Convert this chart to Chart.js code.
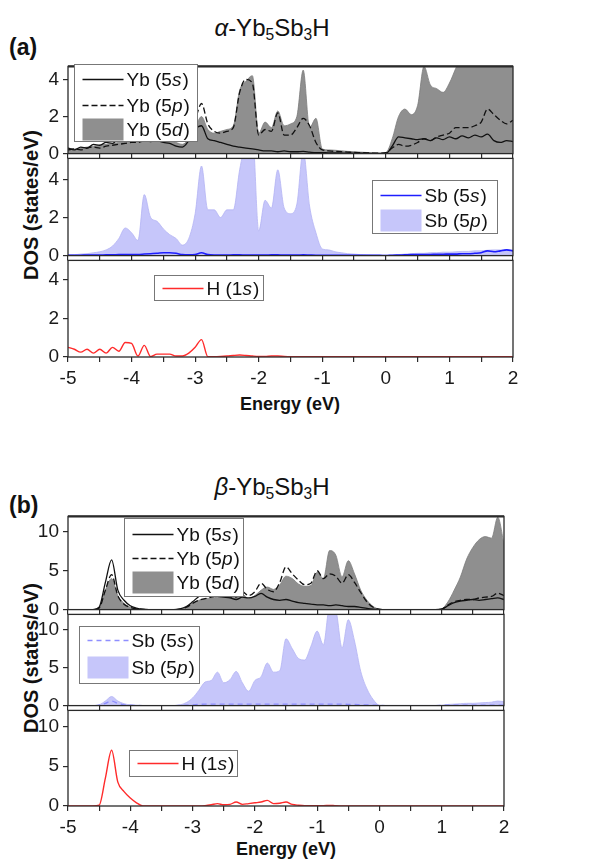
<!DOCTYPE html>
<html>
<head>
<meta charset="utf-8">
<script src="https://cdn.jsdelivr.net/npm/chart.js@4.4.1/dist/chart.umd.min.js"></script>
<style>
  body { margin: 0; background: #fff; width: 598px; height: 865px; position: relative; overflow: hidden;
         font-family: "Liberation Sans", Arial, sans-serif; color: #111; }
  canvas { position: absolute; left: 0; }
  .txt { position: absolute; white-space: nowrap; }
  .title { width: 240px; text-align: center; font-size: 24px; }
  .title sub { font-size: 65%; vertical-align: -0.28em; line-height: 0; }
  .tag { font-weight: bold; font-size: 23px; }
  .ylab { font-weight: bold; font-size: 20px; transform: translate(-50%, -50%) rotate(-90deg); }
  .xlab { font-weight: bold; font-size: 18px; transform: translate(-50%, -50%); }
</style>
</head>
<body>
<div class="txt tag" style="left:9px;top:34px">(a)</div>
<div class="txt title" style="left:152px;top:14px"><i>α</i>-Yb<sub>5</sub>Sb<sub>3</sub>H</div>
<div class="txt ylab" style="left:31px;top:205px">DOS (states/eV)</div>
<div class="txt xlab" style="left:290px;top:404px">Energy (eV)</div>

<div class="txt tag" style="left:9px;top:492px">(b)</div>
<div class="txt title" style="left:152px;top:473px"><i>β</i>-Yb<sub>5</sub>Sb<sub>3</sub>H</div>
<div class="txt ylab" style="left:31px;top:658px">DOS (states/eV)</div>
<div class="txt xlab" style="left:286px;top:849px">Energy (eV)</div>

<canvas id="a1"></canvas>
<canvas id="a2"></canvas>
<canvas id="a3"></canvas>
<canvas id="b1"></canvas>
<canvas id="b2"></canvas>
<canvas id="b3"></canvas>

<script>
// energy grid (eV)
const energy = [-5.0,-4.9,-4.8,-4.7,-4.6,-4.5,-4.4,-4.3,-4.2,-4.1,
  -4.0,-3.9,-3.8,-3.7,-3.6,-3.5,-3.4,-3.3,-3.2,-3.1,
  -3.0,-2.9,-2.8,-2.7,-2.6,-2.5,-2.4,-2.3,-2.2,-2.1,
  -2.0,-1.9,-1.8,-1.7,-1.6,-1.5,-1.4,-1.3,-1.2,-1.1,
  -1.0,-0.9,-0.8,-0.7,-0.6,-0.5,-0.4,-0.3,-0.2,-0.1,
  0.0,0.1,0.2,0.3,0.4,0.5,0.6,0.7,0.8,0.9,
  1.0,1.1,1.2,1.3,1.4,1.5,1.6,1.7,1.8,1.9,2.0];

const xTicks = [-5,-4.5,-4,-3.5,-3,-2.5,-2,-1.5,-1,-0.5,0,0.5,1,1.5,2];
const xLabels = [-5,-4,-3,-2,-1,0,1,2];

// (a) alpha-Yb5Sb3H
const aYb5s = [0.3,0.2,0.35,0.3,0.5,0.45,0.6,0.55,0.8,0.7,
  0.85,0.7,0.75,0.65,0.7,0.6,0.55,0.4,0.35,0.7,
  1.3,1.5,0.8,0.7,0.6,0.5,0.4,0.35,0.3,0.25,
  0.2,0.15,0.15,0.1,0.15,0.1,0.1,0.12,0.08,0.05,
  0.05,0.04,0.04,0.03,0.03,0.02,0.02,0.02,0.01,0.01,
  0.0,0.4,0.9,0.85,0.8,0.75,0.8,0.7,0.85,0.75,
  0.9,0.8,0.95,0.85,1.0,0.9,1.05,0.7,0.6,0.7,0.65];
const aYb5p = [0.2,0.25,0.2,0.3,0.35,0.3,0.4,0.45,0.5,0.55,
  0.6,0.6,0.7,0.75,0.8,0.75,0.8,0.85,0.9,1.0,
  1.8,2.7,1.6,1.2,1.1,1.2,1.4,3.3,4.0,3.8,
  1.0,1.3,1.2,2.2,1.0,1.0,1.4,1.9,1.5,0.6,
  0.2,0.15,0.12,0.1,0.08,0.06,0.05,0.04,0.03,0.02,
  0.05,0.3,0.5,0.4,0.45,0.6,0.8,0.7,0.9,1.0,
  1.1,1.4,1.4,1.4,1.5,1.7,2.4,2.1,1.8,1.6,1.8];
const aYb5d = [0.3,0.25,0.3,0.35,0.4,0.45,0.5,0.55,0.6,0.65,
  0.7,0.65,0.7,0.75,0.7,0.75,0.7,0.6,0.5,0.8,
  1.4,2.0,1.3,1.1,1.2,1.3,1.5,3.4,3.9,4.2,
  1.1,1.7,1.4,2.3,1.5,1.6,2.0,4.5,1.4,1.9,
  0.25,0.2,0.18,0.15,0.12,0.1,0.08,0.06,0.04,0.02,
  0.05,0.8,2.0,2.4,2.1,2.6,4.7,3.7,3.5,3.3,
  3.8,4.6,5.4,6.0,6.5,7.0,6.8,7.2,7.5,7.0,6.8];
const aSb5s = [0.02,0.02,0.02,0.03,0.03,0.03,0.04,0.04,0.05,0.05,
  0.05,0.06,0.08,0.1,0.12,0.15,0.15,0.12,0.05,0.04,
  0.06,0.15,0.05,0.03,0.03,0.03,0.04,0.04,0.03,0.03,
  0.03,0.03,0.04,0.04,0.03,0.03,0.03,0.04,0.03,0.02,
  0.02,0.02,0.01,0.01,0.01,0.01,0.01,0.01,0.01,0.01,
  0.0,0.02,0.03,0.04,0.05,0.05,0.06,0.06,0.07,0.07,
  0.08,0.08,0.1,0.1,0.12,0.15,0.25,0.2,0.25,0.3,0.25];
const aSb5p = [0.05,0.05,0.08,0.1,0.15,0.2,0.3,0.5,0.9,1.45,
  1.2,0.8,3.2,2.0,1.8,1.4,1.1,0.9,0.55,0.9,
  2.2,4.7,2.4,2.4,2.0,2.4,2.4,4.5,6.0,6.5,
  1.3,2.9,2.5,4.5,2.5,2.2,2.7,5.5,2.6,1.2,
  0.35,0.3,0.2,0.15,0.1,0.08,0.05,0.03,0.02,0.02,
  0.02,0.03,0.05,0.08,0.1,0.12,0.12,0.15,0.15,0.18,
  0.18,0.2,0.22,0.22,0.25,0.25,0.28,0.3,0.3,0.32,0.3];
const aH1s = [0.5,0.4,0.25,0.4,0.2,0.4,0.2,0.5,0.3,0.75,
  0.7,0.05,0.6,0.02,0.15,0.15,0.15,0.05,0.05,0.2,
  0.5,0.9,0.02,0.02,0.03,0.05,0.08,0.1,0.08,0.05,
  0.03,0.03,0.05,0.05,0.03,0.02,0.02,0.02,0.02,0.01,
  0.01,0.01,0.01,0.01,0.01,0.01,0.01,0.01,0.01,0.01,
  0.01,0.01,0.01,0.01,0.01,0.01,0.01,0.01,0.01,0.01,
  0.01,0.01,0.01,0.01,0.01,0.01,0.01,0.01,0.01,0.01,0.01];

// (b) beta-Yb5Sb3H
const bYb5s = [0,0,0,0,0,0.3,3.5,6.4,2.5,1.2,
  0.5,0.2,0.05,0,0,0,0,0,0.1,0.4,
  1.0,1.7,2.2,2.0,1.7,1.6,1.5,1.3,1.6,1.5,
  1.7,2.1,1.6,1.3,1.2,1.3,1.1,0.9,0.8,0.7,
  0.6,0.6,0.5,0.6,0.5,0.4,0.4,0.3,0.15,0.05,
  0,0,0,0,0,0,0,0,0,0,
  0.05,0.5,0.9,1.1,1.2,1.3,1.2,1.3,1.4,1.5,1.3];
const bYb5p = [0,0,0,0,0,0.2,2.5,4.5,1.8,0.7,
  0.3,0.1,0.02,0,0,0,0,0,0.05,0.3,
  0.8,1.2,1.4,1.6,1.8,2.0,1.6,1.6,2.3,1.8,
  2.3,3.4,2.6,2.3,3.5,5.5,4.6,3.8,3.2,3.4,
  5.0,4.0,4.6,4.3,3.4,4.5,3.5,2.2,1.0,0.3,
  0.05,0,0,0,0,0,0,0,0,0,
  0.05,0.6,1.0,1.2,1.3,1.3,1.5,1.6,1.7,2.1,1.8];
const bYb5d = [0,0,0,0,0,0.2,2.5,4.0,1.8,0.8,
  0.3,0.1,0.02,0,0,0,0,0,0.05,0.3,
  0.8,1.2,1.4,1.5,1.7,2.0,1.7,1.6,2.0,1.4,
  1.8,2.5,2.9,2.6,3.2,4.3,4.0,3.3,3.0,3.1,
  4.8,4.0,7.6,7.0,4.2,6.3,4.6,2.5,1.2,0.4,
  0.05,0,0,0,0,0,0,0,0,0,
  0.1,1.0,2.5,4.2,6.5,8.0,9.0,9.4,9.2,11.9,8.5];
const bSb5s = [0,0,0,0,0,0.05,0.3,0.6,0.3,0.1,
  0.05,0.02,0,0,0,0,0,0,0.02,0.05,
  0.1,0.15,0.2,0.2,0.2,0.2,0.2,0.2,0.2,0.2,
  0.2,0.2,0.2,0.2,0.2,0.2,0.2,0.2,0.2,0.2,
  0.2,0.2,0.2,0.2,0.2,0.15,0.15,0.1,0.08,0.05,
  0.02,0,0,0,0,0,0,0,0,0,
  0.02,0.05,0.05,0.05,0.05,0.05,0.05,0.05,0.05,0.05,0.05];
const bSb5p = [0,0,0,0,0,0.1,0.6,1.2,0.6,0.25,
  0.1,0.05,0,0,0,0,0,0,0.1,0.4,
  1.0,2.0,3.1,3.3,4.4,3.0,3.4,4.5,3.0,1.9,
  3.3,3.8,5.6,4.4,4.6,8.8,7.5,6.2,6.0,7.8,
  9.8,8.0,13,12.5,7.6,11.3,8.5,4.5,2.2,0.8,
  0.05,0.02,0.02,0.02,0.02,0.02,0.02,0.02,0.02,0.02,
  0.05,0.15,0.2,0.25,0.3,0.3,0.35,0.4,0.45,0.6,0.5];
const bH1s = [0,0,0,0,0,0.1,3.5,7.0,3.0,1.8,
  1.0,0.4,0.02,0,0,0,0,0,0,0.01,
  0.02,0.02,0.05,0.15,0.3,0.15,0.2,0.5,0.2,0.3,
  0.4,0.5,0.7,0.3,0.35,0.5,0.2,0.1,0.05,0.05,
  0.05,0.05,0.08,0.03,0.02,0.01,0.01,0,0,0,
  0,0,0,0,0,0,0,0,0,0,
  0,0,0,0,0,0,0,0,0,0,0];

const FONT = "'Liberation Sans', Arial, sans-serif";
Chart.defaults.font.family = FONT;
Chart.defaults.color = '#1a1a1a';

const pts = (vals) => energy.map((e, i) => ({ x: e, y: vals[i] }));

function line(label, vals, color, width, dash) {
  return { label, data: pts(vals), borderColor: color, borderWidth: width, borderDash: dash || [],
           pointRadius: 0, fill: false, cubicInterpolationMode: 'monotone' };
}
function area(label, vals, color, edge) {
  return { label, data: pts(vals), borderColor: edge, borderWidth: 0.8, backgroundColor: color,
           pointRadius: 0, fill: 'origin', cubicInterpolationMode: 'monotone' };
}

// box around each sub-plot
const frame = {
  id: 'frame',
  afterDatasetsDraw(chart, args, o) {
    const { ctx, chartArea: a } = chart;
    ctx.save();
    ctx.strokeStyle = '#2a2a2a';
    ctx.lineWidth = 1.3;
    ctx.strokeRect(a.left, a.top, a.width, a.height);
    if (o.thickTop) {
      ctx.lineWidth = 2.2;
      ctx.beginPath(); ctx.moveTo(a.left, a.top); ctx.lineTo(a.right, a.top); ctx.stroke();
    }
    ctx.restore();
  }
};

// Origin-style boxed legend with italic orbital letter
const boxLegend = {
  id: 'boxLegend',
  afterDraw(chart, args, o) {
    const { ctx, chartArea: a } = chart;
    const x = Math.round(a.left + o.dx) + 0.5, y = Math.round(a.top + o.dy) + 0.5;
    ctx.save();
    ctx.fillStyle = '#fff';
    ctx.fillRect(x, y, o.w, o.h);
    ctx.strokeStyle = '#777';
    ctx.lineWidth = 1;
    ctx.strokeRect(x, y, o.w, o.h);
    chart.data.datasets.forEach((ds, i) => {
      const cy = y + o.rows[i];
      const sx = x + 8, ex = x + 49;
      if (ds.fill) {
        ctx.fillStyle = ds.backgroundColor;
        ctx.fillRect(sx, cy - 11, ex - sx, 22);
      } else {
        ctx.strokeStyle = ds.borderColor;
        ctx.lineWidth = ds.borderWidth;
        ctx.setLineDash(ds.borderDash);
        ctx.beginPath(); ctx.moveTo(sx, cy); ctx.lineTo(ex, cy); ctx.stroke();
        ctx.setLineDash([]);
      }
      const m = ds.label.match(/^(.*\d)([a-z])(\))$/);
      let tx = x + 52;
      ctx.fillStyle = '#111';
      ctx.textBaseline = 'middle';
      [[m[1], ''], [m[2], 'italic '], [m[3], '']].forEach(([s, st]) => {
        ctx.font = st + '19px ' + FONT;
        ctx.fillText(s, tx, cy + 1);
        tx += ctx.measureText(s).width + (st ? 1 : 0);
      });
    });
    ctx.restore();
  }
};

const PAD_TOP = 12, PAD_RIGHT = 14;

function subplot(id, box, datasets, yMax, yTicks, yLabels, legend, opts) {
  const xh = opts.bottom ? 36 : 14;
  const cv = document.getElementById(id);
  cv.width = box.right + PAD_RIGHT;
  cv.height = PAD_TOP + (box.bottom - box.top) + xh;
  cv.style.top = (box.top - PAD_TOP) + 'px';
  new Chart(cv, {
    type: 'line',
    data: { datasets },
    options: {
      responsive: false,
      animation: false,
      devicePixelRatio: 1,
      layout: { padding: { top: PAD_TOP, right: PAD_RIGHT, left: 0, bottom: 0 } },
      plugins: {
        legend: { display: false },
        tooltip: { enabled: false },
        frame: { thickTop: !!opts.top },
        boxLegend: legend
      },
      scales: {
        x: {
          type: 'linear', min: -5, max: 2,
          afterBuildTicks: s => { s.ticks = xTicks.map(v => ({ value: v })); },
          afterFit: s => { s.height = xh; },
          ticks: { display: !!opts.bottom, autoSkip: false, maxRotation: 0, padding: 5,
                   font: { size: 19 }, color: '#1a1a1a',
                   callback: v => xLabels.includes(v) ? String(v) : '' },
          grid: { drawOnChartArea: false, drawTicks: true, tickLength: 5, color: '#2a2a2a', lineWidth: 1.2 },
          border: { display: false }
        },
        y: {
          min: 0, max: yMax,
          afterBuildTicks: s => { s.ticks = yTicks.map(v => ({ value: v })); },
          afterFit: s => { s.width = box.left; },
          ticks: { padding: 4, font: { size: 19 }, color: '#1a1a1a',
                   callback: v => yLabels.includes(v) ? String(v) : '' },
          grid: { drawOnChartArea: false, drawTicks: true, tickLength: 5, color: '#2a2a2a', lineWidth: 1.2 },
          border: { display: false }
        }
      }
    },
    plugins: [frame, boxLegend]
  });
}

const GRAY = '#8f8f8f', GRAY_EDGE = '#7c7c7c';
const LILAC = '#c6c6fa', LILAC_EDGE = '#b4b4f4';
const RED = '#ff2b2b';

// panel (a)
const aL = 68, aR = 513;
subplot('a1', { left: aL, right: aR, top: 63, bottom: 155 }, [
  line('Yb (5s)', aYb5s, '#111', 1.3),
  line('Yb (5p)', aYb5p, '#111', 1.3, [6, 3]),
  area('Yb (5d)', aYb5d, GRAY, GRAY_EDGE)
], 4.7, [0, 1, 2, 3, 4], [0, 2, 4],
  { dx: 6, dy: -2, w: 123, h: 77, rows: [15, 41, 65] }, { top: true });

subplot('a2', { left: aL, right: aR, top: 155, bottom: 257 }, [
  line('Sb (5s)', aSb5s, '#1e1eff', 1.6),
  area('Sb (5p)', aSb5p, LILAC, LILAC_EDGE)
], 5.1, [0, 1, 2, 3, 4, 5], [0, 2, 4],
  { dx: 304, dy: 22, w: 125, h: 53, rows: [15, 40] }, {});

subplot('a3', { left: aL, right: aR, top: 257, bottom: 357 }, [
  line('H (1s)', aH1s, RED, 1.4)
], 5, [0, 1, 2, 3, 4, 5], [0, 2, 4],
  { dx: 86, dy: 15, w: 109, h: 25, rows: [13] }, { bottom: true });

// panel (b)
const bL = 68, bR = 504;
subplot('b1', { left: bL, right: bR, top: 513, bottom: 611 }, [
  line('Yb (5s)', bYb5s, '#111', 1.3),
  line('Yb (5p)', bYb5p, '#111', 1.3, [6, 3]),
  area('Yb (5d)', bYb5d, GRAY, GRAY_EDGE)
], 12, [0, 2.5, 5, 7.5, 10], [0, 5, 10],
  { dx: 56, dy: 2, w: 119, h: 78, rows: [16, 40, 64] }, { top: true });

subplot('b2', { left: bL, right: bR, top: 611, bottom: 707 }, [
  line('Sb (5s)', bSb5s, '#8e8eff', 1.4, [5, 4]),
  area('Sb (5p)', bSb5p, LILAC, LILAC_EDGE)
], 12, [0, 2.5, 5, 7.5, 10], [0, 5, 10],
  { dx: 11, dy: 12, w: 120, h: 57, rows: [14, 41] }, {});

subplot('b3', { left: bL, right: bR, top: 707, bottom: 806 }, [
  line('H (1s)', bH1s, RED, 1.4)
], 12, [0, 2.5, 5, 7.5, 10], [0, 5, 10],
  { dx: 61, dy: 40, w: 108, h: 26, rows: [13] }, { bottom: true });
</script>
</body>
</html>
